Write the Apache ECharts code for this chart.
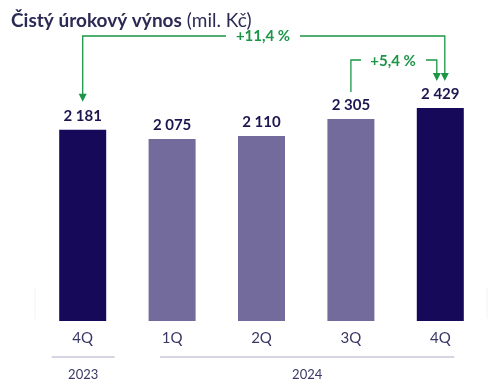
<!DOCTYPE html>
<html><head><meta charset="utf-8">
<script src="https://cdn.jsdelivr.net/npm/echarts@6/dist/echarts.min.js"></script>
<style>html,body{margin:0;padding:0;background:#fff}#c{width:500px;height:391px}</style>
</head><body><div id="c"></div>
<script>
const categories = ['4Q', '1Q', '2Q', '3Q', '4Q'];
const values = [2181, 2075, 2110, 2305, 2429];
const highlight = [true, false, false, false, true];
const years = [{label: '2023', from: 0, to: 0}, {label: '2024', from: 1, to: 4}];
const growth = [{label: '+11,4 %', from: 0, to: 4}, {label: '+5,4 %', from: 3, to: 4}];

const DARK = '#16095a', LIGHT = '#736b9b', GREEN = '#1b9646', TXT = '#3a3766';
const FONT = 'Lato, "Open Sans", sans-serif';
const chart = echarts.init(document.getElementById('c'));
const greenTitle = (t, x, y) => ({
  text: t, left: x, top: y, textAlign: 'center', padding: 0,
  textStyle: { fontFamily: FONT, fontWeight: 'bold', fontSize: 15, color: GREEN }
});
chart.setOption({
  animation: false,
  title: [{
    text: '{b|Čistý úrokový výnos} {n|(mil. Kč)}',
    left: 6, top: 6,
    textStyle: { rich: {
      b: { fontFamily: FONT, fontWeight: 'bold', fontSize: 19, color: '#2b2a55' },
      n: { fontFamily: FONT, fontWeight: 'normal', fontSize: 19, color: '#2b2a55' }
    }}
  }, greenTitle(growth[0].label, 263, 29), greenTitle(growth[1].label, 393, 54)],
  grid: { left: 38, right: 15, top: 58, bottom: 70 },
  xAxis: {
    type: 'category', data: categories,
    axisLine: { show: false }, axisTick: { show: false },
    axisLabel: { fontFamily: FONT, fontSize: 15, color: TXT, margin: 10 }
  },
  yAxis: { type: 'value', min: 0, max: 3000, show: false, splitLine: { show: false } },
  series: [{
    type: 'bar', barWidth: 47,
    data: values.map((v, i) => ({ value: v, itemStyle: { color: highlight[i] ? DARK : LIGHT } })),
    label: { show: true, position: 'top', distance: 6, fontFamily: FONT, fontWeight: 'bold', fontSize: 15, color: '#1c1650',
      formatter: p => p.value.toLocaleString('cs-CZ').replace(/\s/g, ' ') }
  }]
});

function px(i, v) { return chart.convertToPixel({ seriesIndex: 0 }, [i, v]); }
const g = [];
const b0 = px(0, 0), top0 = px(0, 3000);
g.push({ type: 'line', shape: { x1: 35, y1: top0[1] + 230, x2: 35, y2: b0[1] - 2 }, style: { stroke: '#f3f3f6', lineWidth: 1 } });
g.push({ type: 'line', shape: { x1: 487, y1: top0[1] + 230, x2: 487, y2: b0[1] - 2 }, style: { stroke: '#f3f3f6', lineWidth: 1 } });
years.forEach(y => {
  const a = px(y.from, 0)[0], b = px(y.to, 0)[0];
  const x1 = y.from === y.to ? a - 31 : a - 12, x2 = y.from === y.to ? b + 32 : b + 14;
  g.push({ type: 'line', shape: { x1, y1: 357, x2, y2: 357 }, style: { stroke: '#c9c9d9', lineWidth: 1.5 } });
  g.push({ type: 'text', style: { text: y.label, x: (x1 + x2) / 2, y: 375, align: 'center', verticalAlign: 'middle',
    fontFamily: FONT, fontSize: 13, fill: TXT } });
});
function arrowHead(x, y) {
  g.push({ type: 'polygon', shape: { points: [[x - 4, y - 8], [x + 4, y - 8], [x, y]] }, style: { fill: GREEN } });
}
{
  const xa = px(growth[0].from, 0)[0], xb = px(growth[0].to, 0)[0] + 4.5;
  const ya = px(growth[0].from, values[growth[0].from])[1] - 28, yb = px(growth[0].to, values[growth[0].to])[1] - 27, yh = 36;
  const tx = 263;
  g.push({ type: 'polyline', shape: { points: [[xa, ya - 7], [xa, yh], [tx - 37, yh]] }, style: { stroke: GREEN, lineWidth: 1.3, fill: null } });
  g.push({ type: 'polyline', shape: { points: [[tx + 37, yh], [xb, yh], [xb, yb - 7]] }, style: { stroke: GREEN, lineWidth: 1.3, fill: null } });
  arrowHead(xa, ya); arrowHead(xb, yb);
}
{
  const xa = px(growth[1].from, 0)[0], xb = px(growth[1].to, 0)[0] - 3.5;
  const ya = px(growth[1].from, values[growth[1].from])[1] - 27, yb = px(growth[1].to, values[growth[1].to])[1] - 27, yh = 60;
  const tx = 393;
  g.push({ type: 'polyline', shape: { points: [[xa, ya], [xa, yh], [tx - 32, yh]] }, style: { stroke: GREEN, lineWidth: 1.3, fill: null } });
  g.push({ type: 'polyline', shape: { points: [[tx + 33, yh], [xb, yh], [xb, yb - 7]] }, style: { stroke: GREEN, lineWidth: 1.3, fill: null } });
  arrowHead(xb, yb);
}
chart.setOption({ graphic: g });
</script></body></html>
